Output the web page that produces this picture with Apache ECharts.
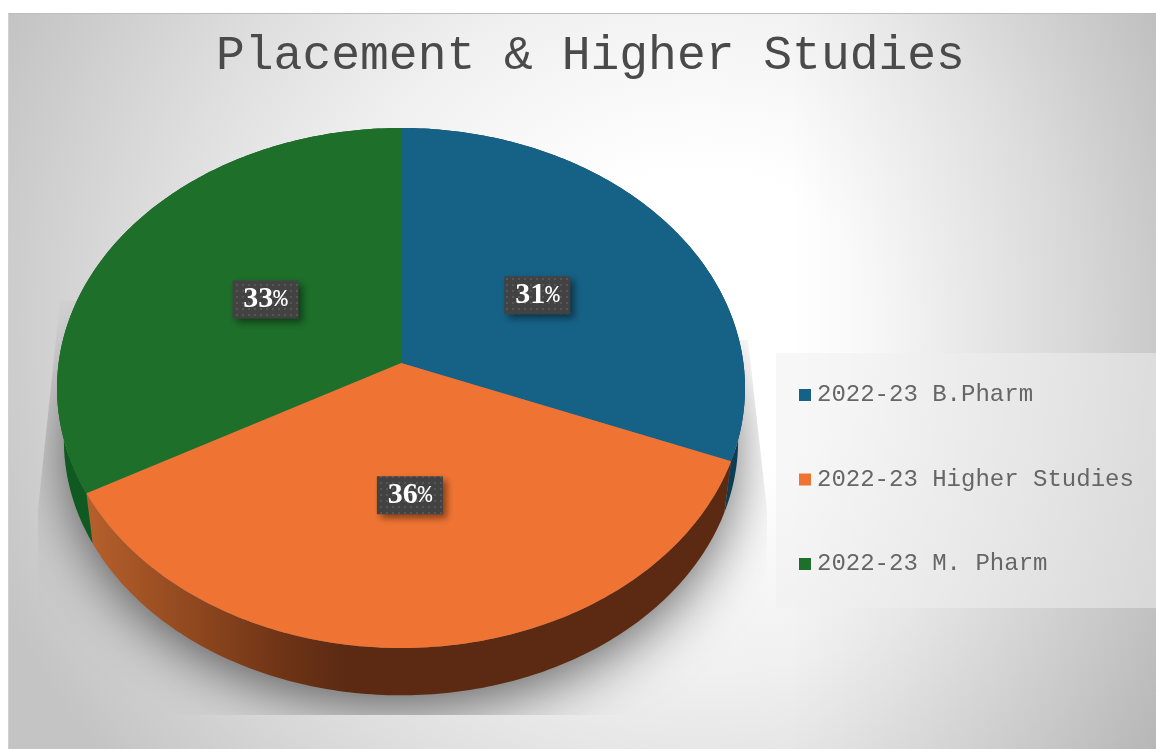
<!DOCTYPE html>
<html>
<head>
    <meta charset="utf-8">
    <title>Placement &amp; Higher Studies</title>
    <script src="https://cdn.jsdelivr.net/npm/echarts@6/dist/echarts.min.js"></script>
    <style>
        html, body { margin: 0; padding: 0; background: #fff; overflow: hidden; }
        #panel {
            position: absolute; left: 8px; top: 13px; width: 1148px; height: 736px;
            border-top: 1px solid #bdbdbd; border-left: 1px solid #d0d0d0; box-sizing: border-box;
            background:
                linear-gradient(to right, rgba(0,0,0,0) 68%, rgba(0,0,0,0.13) 100%),
                radial-gradient(ellipse 760px 700px at 690px 310px, #ffffff 0%, #ffffff 22%, #f0f0f0 50%, #dedede 72%, #c4c4c4 100%);
        }
        #chart { position: absolute; left: 0; top: 0; width: 1156px; height: 749px; }
    </style>
</head>
<body>
<div id="panel"></div>
<div id="chart"></div>

<script type="text/javascript">
    var chartTitle = 'Placement & Higher Studies';
    var categories = ['2022-23 B.Pharm', '2022-23 Higher Studies', '2022-23 M. Pharm'];
    var percentValues = [31, 36, 33];
    var topColors = ['#166186', '#ef7433', '#1d6f2a'];
    var sideColors = ['#0b3d55', null, '#0f5a20'];
    var labelShiftX = [2, -3, 5];
    var labelShiftY = [1, -10, -1];

    // 圆盘透视参数：把单位圆映射到屏幕椭圆
    var cx = 401, cy = 363, A = 342.4, B = 257.6, k = 0.0962;
    var depthY = 53, depthScale = 0.98;
    var total = percentValues.reduce(function (a, b) { return a + b; }, 0);

    function project(angle, scale, shiftY) {
        var u = Math.sin(angle), v = -Math.cos(angle), w = 1 - k * v;
        return [cx + A * u * scale / w, cy + shiftY + B * v * scale / w];
    }

    function arc(a0, a1, scale, shiftY) {
        var n = Math.max(2, Math.ceil((a1 - a0) / 0.015)), pts = [];
        for (var i = 0; i <= n; i++) {
            pts.push(project(a0 + (a1 - a0) * i / n, scale, shiftY));
        }
        return pts;
    }

    // 橙色侧面的渐变（左亮右暗）
    var orangeSide = new echarts.graphic.LinearGradient(90, 0, 345, 0, [
        { offset: 0, color: '#b55f2b' },
        { offset: 0.4, color: '#90481f' },
        { offset: 0.75, color: '#6f3416' },
        { offset: 1, color: '#5c2a13' }
    ], true);

    // 数据标签的点状底纹
    var dots = document.createElement('canvas');
    dots.width = 6; dots.height = 6;
    var dotCtx = dots.getContext('2d');
    dotCtx.fillStyle = '#424242';
    dotCtx.fillRect(0, 0, 6, 6);
    dotCtx.fillStyle = '#565656';
    dotCtx.fillRect(2, 2, 2, 2);

    function renderSlice(index) {
        return function (params, api) {
            var before = 0;
            for (var i = 0; i < index; i++) before += percentValues[i];
            var value = api.value(0);
            var a0 = before / total * Math.PI * 2;
            var a1 = (before + value) / total * Math.PI * 2;
            var top = arc(a0, a1, 1, 0);
            var bottom = arc(a0, a1, depthScale, depthY).reverse();
            return {
                type: 'group',
                children: [
                    {
                        type: 'polygon',
                        shape: { points: top.concat(bottom) },
                        style: { fill: sideColors[index] || orangeSide }
                    },
                    {
                        type: 'polygon',
                        shape: { points: [[cx, cy]].concat(top) },
                        style: { fill: api.visual('color') }
                    }
                ]
            };
        };
    }

    function renderLabel(params, api) {
        var before = 0;
        for (var i = 0; i < params.dataIndex; i++) before += percentValues[i];
        var value = api.value(0);
        var mid = project((before + value / 2) / total * Math.PI * 2, 0.5, 0);
        var x = mid[0] + labelShiftX[params.dataIndex];
        var y = mid[1] + labelShiftY[params.dataIndex];
        return {
            type: 'group',
            children: [
                {
                    type: 'rect',
                    shape: { x: x - 33, y: y - 19, width: 66, height: 38 },
                    style: {
                        fill: { image: dots, repeat: 'repeat' },
                        shadowBlur: 7, shadowOffsetX: 4, shadowOffsetY: 4,
                        shadowColor: 'rgba(0,0,0,0.45)'
                    }
                },
                {
                    type: 'text',
                    x: x,
                    y: y,
                    style: {
                        text: '{n|' + value + '}{p|%}',
                        align: 'center',
                        verticalAlign: 'middle',
                        rich: {
                            n: { fontFamily: 'Liberation Serif', fontWeight: 'bold', fontSize: 30, fill: '#fff', color: '#fff' },
                            p: { fontFamily: 'Liberation Mono', fontSize: 24, fill: '#fff', color: '#fff' }
                        }
                    }
                }
            ]
        };
    }

    var series = [{
        // 底部投影
        type: 'custom',
        coordinateSystem: 'none',
        silent: true,
        z: 1,
        data: [[total]],
        renderItem: function () {
            return {
                type: 'polygon',
                shape: { points: arc(0, Math.PI * 2, 0.97, 50) },
                style: {
                    fill: '#777',
                    shadowBlur: 58,
                    shadowOffsetY: 16,
                    shadowColor: 'rgba(0,0,0,0.62)'
                },
                clipPath: {
                    type: 'polygon',
                    shape: { points: [[60, 300], [38, 510], [38, 715], [767, 715], [767, 510], [748, 340]] }
                }
            };
        }
    }];

    categories.forEach(function (name, i) {
        series.push({
            name: name,
            type: 'custom',
            coordinateSystem: 'none',
            silent: true,
            z: 2,
            itemStyle: { color: topColors[i] },
            data: [[percentValues[i]]],
            renderItem: renderSlice(i)
        });
    });

    series.push({
        type: 'custom',
        coordinateSystem: 'none',
        silent: true,
        z: 3,
        data: percentValues.map(function (v) { return [v]; }),
        renderItem: renderLabel
    });

    var myChart = echarts.init(document.getElementById('chart'), null, { renderer: 'canvas' });
    myChart.setOption({
        backgroundColor: 'transparent',
        animation: false,
        title: {
            text: chartTitle,
            left: 216,
            top: 32,
            padding: 0,
            textStyle: { fontFamily: 'Liberation Mono', fontWeight: 'normal', fontSize: 48, color: '#4a4a4a' }
        },
        legend: {
            data: categories,
            orient: 'vertical',
            left: 799,
            top: 383,
            padding: 0,
            itemWidth: 12,
            itemHeight: 12,
            itemGap: 60.5,
            icon: 'rect',
            selectedMode: false,
            textStyle: { fontFamily: 'Liberation Mono', fontSize: 24, color: '#666666', padding: [0, 0, 0, 1] }
        },
        graphic: [{
            type: 'rect',
            z: -1,
            silent: true,
            shape: { x: 776, y: 353, width: 380, height: 255 },
            style: { fill: 'rgba(240,240,240,0.5)' }
        }],
        series: series
    });
</script>
</body>
</html>
